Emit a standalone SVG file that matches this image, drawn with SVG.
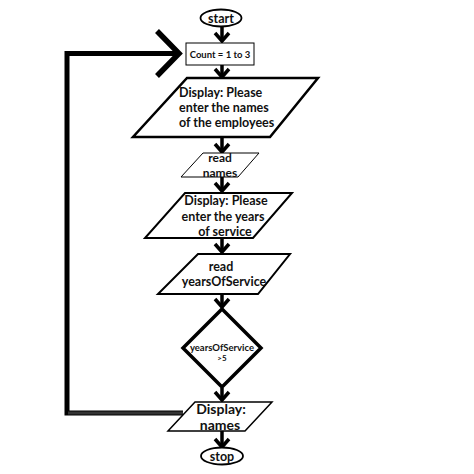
<svg xmlns="http://www.w3.org/2000/svg" width="474" height="474" viewBox="0 0 474 474">
<style>
text{font-family:Lato,"Open Sans","Liberation Sans",sans-serif;font-weight:bold;fill:#111}
.c{text-anchor:middle}
.shape{fill:#fff;stroke:#000}
.arr{fill:none;stroke:#000;stroke-width:3.5;stroke-linecap:butt}
.head{fill:none;stroke:#000;stroke-width:3.5;stroke-linejoin:miter}
</style>
<rect width="474" height="474" fill="#fff"/>
<g id="connectors">
<g class="arr">
<line x1="222" y1="26" x2="222" y2="41"/>
<line x1="222" y1="65" x2="222" y2="77"/>
<line x1="222" y1="138" x2="222" y2="152"/>
<line x1="222" y1="177" x2="222" y2="191"/>
<line x1="222" y1="239" x2="222" y2="252"/>
<line x1="222" y1="295" x2="222" y2="307"/>
<line x1="222" y1="388" x2="222" y2="400"/>
<line x1="222" y1="431" x2="222" y2="447"/>
</g>
<g class="head">
<polyline points="215,33 222,41 229,33"/>
<polyline points="215,69 222,77 229,69"/>
<polyline points="215,144 222,152 229,144"/>
<polyline points="215,183 222,191 229,183"/>
<polyline points="215,244 222,252 229,244"/>
<polyline points="215,299 222,307 229,299"/>
<polyline points="215,392 222,400 229,392"/>
<polyline points="215,439 222,447 229,439"/>
</g>
<polyline points="183,413 67,413 67,53.5 178,53.5" fill="none" stroke="#000" stroke-width="5" stroke-linejoin="miter"/>
<line x1="68" y1="413" x2="183" y2="413" stroke="#333" stroke-width="3"/>
<polyline points="157,31 179,53.5 157,76" fill="none" stroke="#000" stroke-width="5.5"/>
</g>
<g id="start">
<ellipse class="shape" cx="221" cy="18" rx="20.5" ry="8.5" stroke-width="1.8"/>
<text class="c" x="221" y="22.5" font-size="12.5">start</text>
</g>
<g id="count">
<rect class="shape" x="186" y="43" width="68" height="22" stroke="#555" stroke-width="1"/>
<text class="c" x="220" y="58" font-size="9.5">Count = 1 to 3</text>
</g>
<g id="display1">
<polygon class="shape" points="187,78 318,78 270,137 133,137" stroke-width="2.5"/>
<text x="179" y="97" font-size="12.5">Display: Please</text>
<text x="179" y="112" font-size="12.5">enter the names</text>
<text x="179" y="127" font-size="12.5">of the employees</text>
</g>
<g id="readNames">
<polygon class="shape" points="203,153 259,153 238,177 181,177" stroke-width="1"/>
<text class="c" x="220" y="162" font-size="12">read</text>
<text class="c" x="220" y="177" font-size="12">names</text>
</g>
<g id="display2">
<polygon class="shape" points="185,193 292,193 253,238 145,238" stroke-width="2"/>
<text class="c" x="226" y="205" font-size="12.5">Display: Please</text>
<text class="c" x="223" y="221" font-size="12.5">enter the years</text>
<text class="c" x="225" y="236" font-size="12.5">of service</text>
</g>
<g id="readYears">
<polygon class="shape" points="198,254 290,254 258,294 158,294" stroke-width="2"/>
<text class="c" x="221" y="271" font-size="12.5">read</text>
<text class="c" x="224" y="286" font-size="12.5">yearsOfService</text>
</g>
<g id="decision">
<polygon class="shape" points="222,309 261,348 222,387 183,348" stroke-width="3.5"/>
<text class="c" x="222" y="351" font-size="9.5">yearsOfService</text>
<text class="c" x="222" y="361" font-size="8">&gt;5</text>
</g>
<g id="displayNames">
<polygon class="shape" points="195,402 272,402 245,431 168,431" stroke-width="1.5"/>
<text class="c" x="221" y="414" font-size="14">Display:</text>
<text class="c" x="220" y="430" font-size="14">names</text>
</g>
<g id="stop">
<ellipse class="shape" cx="222" cy="456" rx="21" ry="8.5" stroke-width="1.8"/>
<text class="c" x="222" y="460.5" font-size="12.5">stop</text>
</g>
</svg>
